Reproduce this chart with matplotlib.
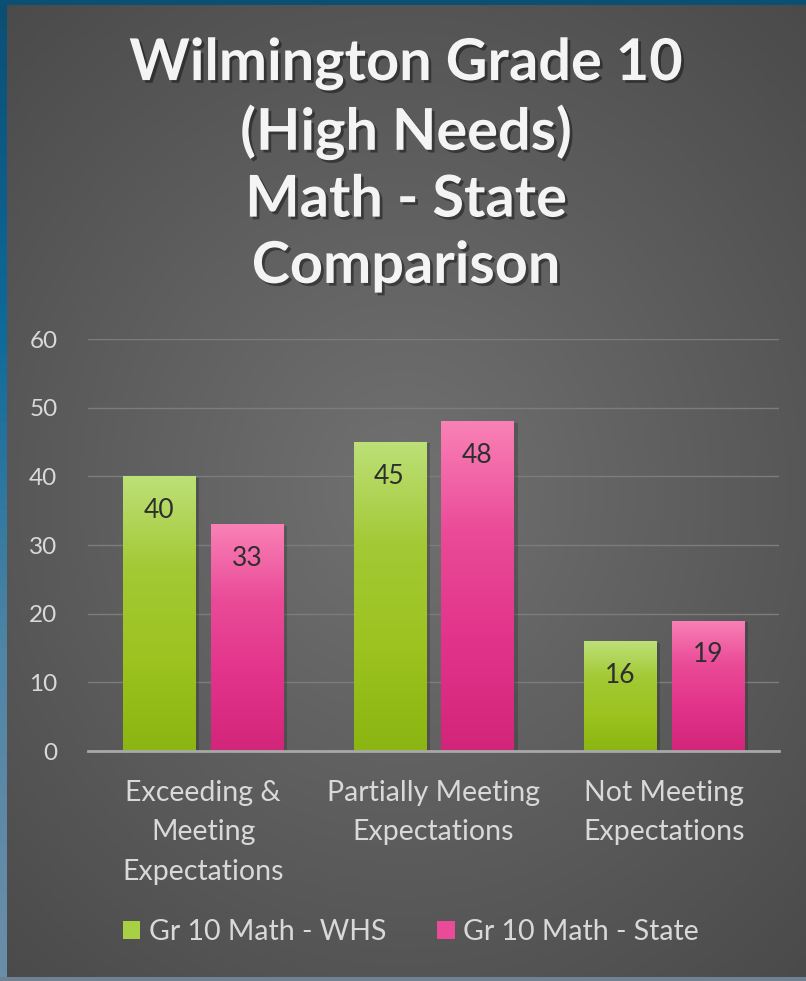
import numpy as np
import matplotlib
matplotlib.use("Agg")
import matplotlib.pyplot as plt
from matplotlib.patches import Rectangle
from matplotlib.colors import LinearSegmentedColormap
import matplotlib.patheffects as pe

plt.rcParams['font.family'] = ['Lato', 'DejaVu Sans']

categories = ["Exceeding &\nMeeting\nExpectations", "Partially Meeting\nExpectations", "Not Meeting\nExpectations"]
series_names = ["Gr 10 Math - WHS", "Gr 10 Math - State"]
whs = [40, 45, 16]
state = [33, 48, 19]
yticks = [0, 10, 20, 30, 40, 50, 60]
title = "Wilmington Grade 10\n(High Needs)\nMath - State\nComparison"

W, H = 806, 981
fig = plt.figure(figsize=(W/100, H/100), dpi=100)

# background radial gradient
bg = fig.add_axes([0, 0, 1, 1], zorder=-10)
yy, xx = np.mgrid[0:1:400j, 0:1:400j]
r = np.sqrt(((xx-0.5)*1.0)**2 + ((yy-0.5)*1.1)**2)
val = np.clip(1 - r/0.75, 0, 1)
cmap_bg = LinearSegmentedColormap.from_list("bg", ["#4a4a4a", "#717171"])
bg.imshow(val, cmap=cmap_bg, extent=[0, 1, 0, 1], aspect='auto', origin='lower')
bg.set_xlim(0, 1); bg.set_ylim(0, 1)
bg.axis('off')
# borders
lg = np.linspace(0, 1, 100).reshape(-1, 1)
cmap_left = LinearSegmentedColormap.from_list("lb", ["#0b4e74", "#0d6a9a", "#4f85a6", "#6b8ea8"])
bg.imshow(lg, cmap=cmap_left, extent=[0, 7/W, 0, 1], aspect='auto', origin='upper', zorder=2)
bg.add_patch(Rectangle((0, 1-5/H), 1, 5/H, color="#0b4f73", zorder=3, lw=0))
bg.add_patch(Rectangle((0, 0), 1, 4/H, color="#6f8294", zorder=3, lw=0))
bg.set_xlim(0, 1); bg.set_ylim(0, 1)

ax = fig.add_axes([88/W, 1-751/H, 691/W, (751-339)/H])
ax.set_facecolor('none')
x = np.arange(len(categories))
bw = 0.3126
off = 0.191

grad = np.linspace(0, 1, 256).reshape(-1, 1)
cmap_g = LinearSegmentedColormap.from_list("g", ["#8bb512", "#9cc31f", "#a3c935", "#bde078"])
cmap_p = LinearSegmentedColormap.from_list("p", ["#d2267a", "#e2338a", "#ea4b98", "#f981b6"])

def gradbars(xpos, vals, cmap):
    bars = ax.bar(xpos, vals, width=bw, color='none', zorder=3)
    for b in bars:
        x0, y0 = b.get_x(), b.get_y()
        w, h = b.get_width(), b.get_height()
        # shadow
        ax.add_patch(Rectangle((x0 + 0.012, y0), w + 0.006, h - 0.2, color='black', alpha=0.18, zorder=2, lw=0))
        im = ax.imshow(grad, cmap=cmap, extent=[x0, x0 + w, y0, y0 + h], aspect='auto', origin='lower', zorder=3)
        im.set_clip_path(b)
    return bars

b1 = gradbars(x - off, whs, cmap_g)
b2 = gradbars(x + off, state, cmap_p)
for bars, vals in ((b1, whs), (b2, state)):
    for b, v in zip(bars, vals):
        ax.text(b.get_x() + b.get_width()/2, v - 5, str(v), ha='center', va='center',
                fontsize=19, color='#2e2e2e', zorder=5)

ax.set_xlim(-0.5, 2.5)
ax.set_ylim(0, 60)
ax.set_yticks(yticks)
ax.set_yticklabels([str(t) for t in yticks])
ax.set_xticks(x)
ax.set_xticklabels(categories, fontsize=20.5, color='#d9d9d9', linespacing=1.63, va='top')
ax.tick_params(axis='x', length=0, pad=21)
ax.tick_params(axis='y', length=0, pad=22, labelsize=17.5, labelcolor='#d9d9d9')
ax.grid(axis='y', color='#7c7c7c', lw=1.0, zorder=0)
ax.set_axisbelow(True)
for s in ('top', 'right', 'left'):
    ax.spines[s].set_visible(False)
ax.spines['bottom'].set_color('#a8a8a8')
ax.spines['bottom'].set_linewidth(2)
ax.spines['bottom'].set_zorder(6)

fig.text(406/W, 1-165/H, title, ha='center', va='center', fontsize=41.5, fontweight='bold',
         color='#f4f4f4', linespacing=1.31,
         path_effects=[pe.withSimplePatchShadow(offset=(2, -2), shadow_rgbFace='black', alpha=0.4)])

# legend
handles = [Rectangle((0, 0), 1, 1, facecolor='#a8d044', edgecolor='none'),
           Rectangle((0, 0), 1, 1, facecolor='#ea4b98', edgecolor='none')]
fig.legend(handles, series_names, loc='center', bbox_to_anchor=(411/W, 1-932/H), ncol=2,
           frameon=False, fontsize=20.5, labelcolor='#d9d9d9', handlelength=0.6, handleheight=0.6,
           handletextpad=0.3, columnspacing=1.8)

fig.savefig("out.png", dpi=100)
